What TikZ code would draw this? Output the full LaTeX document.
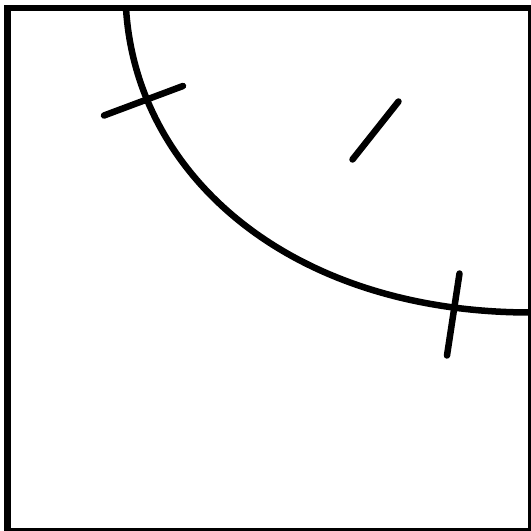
\documentclass[tikz,border=0pt]{standalone}
\begin{document}
\begin{tikzpicture}[x=1pt,y=-1pt,
  stroke/.style={line width=6.5pt, draw=black},
  tickmark/.style={stroke, line cap=round}]
\useasboundingbox (0,0) rectangle (531,531);
\draw[stroke] (7.7,8) rectangle (531,531);
\draw[stroke] (126,8) .. controls (136,176) and (291,312.5) .. (531,312.5);
\draw[tickmark] (104,115.5) -- (183,86);
\draw[tickmark] (459.5,273.5) -- (447,355.5);
\draw[tickmark] (398.5,101.5) -- (352.5,159.5);
\end{tikzpicture}
\end{document}
